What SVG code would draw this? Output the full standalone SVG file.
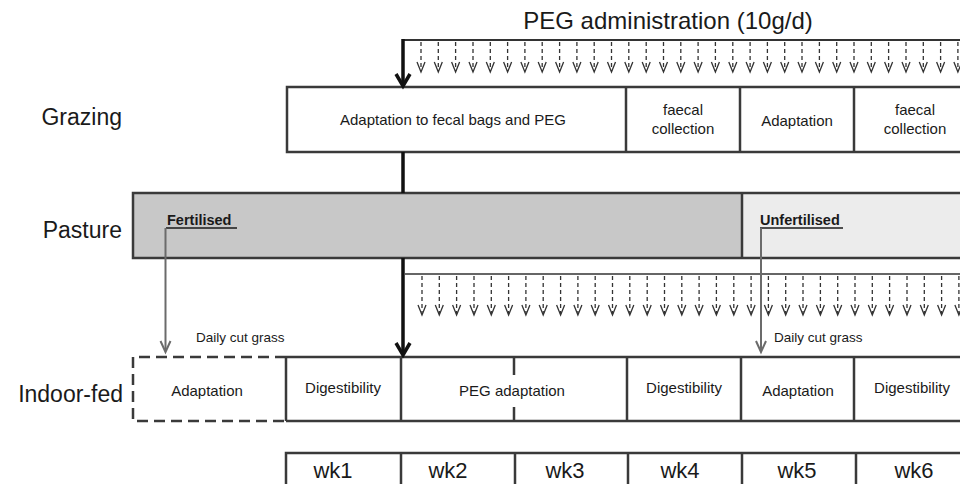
<svg xmlns="http://www.w3.org/2000/svg" xmlns:xlink="http://www.w3.org/1999/xlink" width="960" height="484" viewBox="0 0 960 484">
  <style>
    .lbl { font-family: "Liberation Sans", Arial, sans-serif; font-size: 23px; fill: #1a1a1a; text-anchor: end; }
    .title { font-family: "Liberation Sans", Arial, sans-serif; font-size: 24px; fill: #1a1a1a; text-anchor: middle; }
    .t { font-family: "Liberation Sans", Arial, sans-serif; font-size: 15px; fill: #1a1a1a; text-anchor: middle; }
    .s { font-family: "Liberation Sans", Arial, sans-serif; font-size: 13.5px; fill: #1a1a1a; }
    .b { font-family: "Liberation Sans", Arial, sans-serif; font-size: 14.5px; font-weight: bold; fill: #1a1a1a; }
    .wk { font-family: "Liberation Sans", Arial, sans-serif; font-size: 22px; fill: #1a1a1a; text-anchor: middle; }
    .box { fill: #ffffff; stroke: #3a3a3a; stroke-width: 2.5; }
    .ln { fill: none; stroke: #3a3a3a; stroke-width: 2.5; }
    .dbox { fill: none; stroke: #3a3a3a; stroke-width: 2.5; stroke-dasharray: 11 6; }
    .thick { fill: none; stroke: #111111; stroke-width: 3.5; }
    .hl { fill: none; stroke: #333333; }
    .dash { fill: none; stroke: #333333; stroke-width: 1.3; stroke-dasharray: 4 3; }
    .chev { fill: none; stroke: #333333; stroke-width: 1.3; }
    .gray { fill: none; stroke: #6b6b6b; stroke-width: 2; }
    .ul { stroke: #1a1a1a; stroke-width: 1.5; }
  </style>
  <defs>
    <g id="sa1">
      <line class="dash" x1="0" y1="0" x2="0" y2="29"/>
      <polyline class="chev" points="-4,20 0,30 4,20"/>
    </g>
    <g id="sa2">
      <line class="dash" x1="0" y1="0" x2="0" y2="38"/>
      <polyline class="chev" points="-4,29 0,39 4,29"/>
    </g>
  </defs>

  <rect x="0" y="0" width="960" height="484" fill="#ffffff"/>

  <text class="title" x="668" y="29">PEG administration (10g/d)</text>

  <g id="row-labels">
    <text class="lbl" x="122" y="125">Grazing</text>
    <text class="lbl" x="122" y="238">Pasture</text>
    <text class="lbl" x="123" y="402">Indoor-fed</text>
  </g>

  <g id="grazing">
    <rect class="box" x="287" y="87" width="690" height="65"/>
    <line class="ln" x1="626" y1="87" x2="626" y2="152"/>
    <line class="ln" x1="740" y1="87" x2="740" y2="152"/>
    <line class="ln" x1="854" y1="87" x2="854" y2="152"/>
    <text class="t" x="453" y="125">Adaptation to fecal bags and PEG</text>
    <text class="t" x="683" y="115">faecal</text>
    <text class="t" x="683" y="134">collection</text>
    <text class="t" x="797" y="126">Adaptation</text>
    <text class="t" x="915" y="115">faecal</text>
    <text class="t" x="915" y="134">collection</text>
  </g>

  <g id="pasture">
    <rect x="133" y="193" width="609" height="65" fill="#c8c8c8"/>
    <rect x="742" y="193" width="235" height="65" fill="#ececec"/>
    <rect class="ln" x="133" y="193" width="844" height="65"/>
    <line class="ln" x1="742" y1="193" x2="742" y2="258"/>
    <text class="b" x="167" y="225">Fertilised</text>
    <line class="ul" x1="166" y1="228" x2="237" y2="228"/>
    <text class="b" x="760" y="225">Unfertilised</text>
    <line class="ul" x1="760" y1="228" x2="843" y2="228"/>
  </g>

  <g id="indoor">
    <path class="dbox" d="M286,357 H133 V421 H286"/>
    <path class="ln" d="M286,357 H977 M286,421 H977 M286,357 V421 M401,357 V421 M627,357 V421 M741,357 V421 M854,357 V421 M514,357 V375 M514,407 V421"/>
    <text class="t" x="207" y="396">Adaptation</text>
    <text class="t" x="343" y="393">Digestibility</text>
    <text class="t" x="512" y="396">PEG adaptation</text>
    <text class="t" x="684" y="393">Digestibility</text>
    <text class="t" x="798" y="396">Adaptation</text>
    <text class="t" x="912" y="393">Digestibility</text>
  </g>

  <g id="weeks">
    <path class="ln" d="M286,490 V453 H977 M401,453 V490 M515,453 V490 M628,453 V490 M742,453 V490 M856,453 V490"/>
    <text class="wk" x="333" y="478">wk1</text>
    <text class="wk" x="448" y="478">wk2</text>
    <text class="wk" x="565" y="478">wk3</text>
    <text class="wk" x="680" y="478">wk4</text>
    <text class="wk" x="797" y="478">wk5</text>
    <text class="wk" x="914" y="478">wk6</text>
  </g>

  <g id="connectors">
    <line class="hl" stroke-width="2" x1="402" y1="40" x2="962" y2="40"/>
    <line class="thick" x1="403" y1="39" x2="403" y2="85"/>
    <polyline class="thick" points="396,74 403,86 410,74"/>
    <line class="thick" x1="403" y1="152" x2="403" y2="193"/>
    <line class="thick" x1="403" y1="258" x2="403" y2="354"/>
    <polyline class="thick" points="396,343 403,355 410,343"/>
    <line class="hl" stroke-width="1.5" x1="405" y1="274" x2="962" y2="274"/>

    <g id="peg-top">
      <use xlink:href="#sa1" x="421" y="42"/><use xlink:href="#sa1" x="438.3" y="42"/><use xlink:href="#sa1" x="455.6" y="42"/><use xlink:href="#sa1" x="473" y="42"/>
      <use xlink:href="#sa1" x="490.3" y="42"/><use xlink:href="#sa1" x="507.6" y="42"/><use xlink:href="#sa1" x="524.9" y="42"/><use xlink:href="#sa1" x="542.2" y="42"/>
      <use xlink:href="#sa1" x="559.6" y="42"/><use xlink:href="#sa1" x="576.9" y="42"/><use xlink:href="#sa1" x="594.2" y="42"/><use xlink:href="#sa1" x="611.5" y="42"/>
      <use xlink:href="#sa1" x="628.8" y="42"/><use xlink:href="#sa1" x="646.2" y="42"/><use xlink:href="#sa1" x="663.5" y="42"/><use xlink:href="#sa1" x="680.8" y="42"/>
      <use xlink:href="#sa1" x="698.1" y="42"/><use xlink:href="#sa1" x="715.4" y="42"/><use xlink:href="#sa1" x="732.8" y="42"/><use xlink:href="#sa1" x="750.1" y="42"/>
      <use xlink:href="#sa1" x="767.4" y="42"/><use xlink:href="#sa1" x="784.7" y="42"/><use xlink:href="#sa1" x="802" y="42"/><use xlink:href="#sa1" x="819.4" y="42"/>
      <use xlink:href="#sa1" x="836.7" y="42"/><use xlink:href="#sa1" x="854" y="42"/><use xlink:href="#sa1" x="871.3" y="42"/><use xlink:href="#sa1" x="888.6" y="42"/>
      <use xlink:href="#sa1" x="906" y="42"/><use xlink:href="#sa1" x="923.3" y="42"/><use xlink:href="#sa1" x="940.6" y="42"/><use xlink:href="#sa1" x="957.9" y="42"/>
    </g>
    <g id="peg-bottom">
      <use xlink:href="#sa2" x="422" y="276"/><use xlink:href="#sa2" x="439.3" y="276"/><use xlink:href="#sa2" x="456.6" y="276"/><use xlink:href="#sa2" x="474" y="276"/>
      <use xlink:href="#sa2" x="491.3" y="276"/><use xlink:href="#sa2" x="508.6" y="276"/><use xlink:href="#sa2" x="525.9" y="276"/><use xlink:href="#sa2" x="543.2" y="276"/>
      <use xlink:href="#sa2" x="560.6" y="276"/><use xlink:href="#sa2" x="577.9" y="276"/><use xlink:href="#sa2" x="595.2" y="276"/><use xlink:href="#sa2" x="612.5" y="276"/>
      <use xlink:href="#sa2" x="629.8" y="276"/><use xlink:href="#sa2" x="647.2" y="276"/><use xlink:href="#sa2" x="664.5" y="276"/><use xlink:href="#sa2" x="681.8" y="276"/>
      <use xlink:href="#sa2" x="699.1" y="276"/><use xlink:href="#sa2" x="716.4" y="276"/><use xlink:href="#sa2" x="733.8" y="276"/><use xlink:href="#sa2" x="751.1" y="276"/>
      <use xlink:href="#sa2" x="768.4" y="276"/><use xlink:href="#sa2" x="785.7" y="276"/><use xlink:href="#sa2" x="803" y="276"/><use xlink:href="#sa2" x="820.4" y="276"/>
      <use xlink:href="#sa2" x="837.7" y="276"/><use xlink:href="#sa2" x="855" y="276"/><use xlink:href="#sa2" x="872.3" y="276"/><use xlink:href="#sa2" x="889.6" y="276"/>
      <use xlink:href="#sa2" x="907" y="276"/><use xlink:href="#sa2" x="924.3" y="276"/><use xlink:href="#sa2" x="941.6" y="276"/><use xlink:href="#sa2" x="958.9" y="276"/>
    </g>

    <line class="gray" x1="165.5" y1="228" x2="165.5" y2="351"/>
    <polyline class="gray" points="160.5,341 165.5,352 170.5,341"/>
    <line class="gray" x1="761" y1="228" x2="761" y2="351"/>
    <polyline class="gray" points="756,341 761,352 766,341"/>
    <text class="s" x="196" y="342">Daily cut grass</text>
    <text class="s" x="774" y="342">Daily cut grass</text>
  </g>
</svg>
